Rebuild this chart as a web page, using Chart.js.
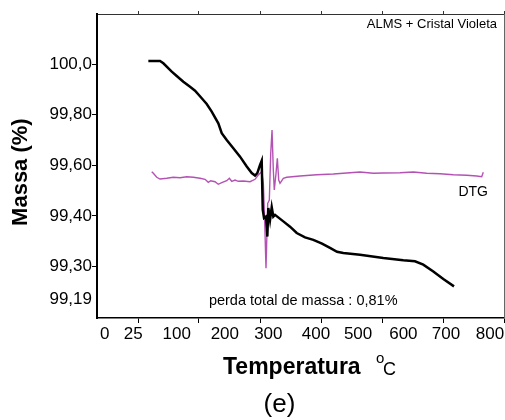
<!DOCTYPE html>
<html><head><meta charset="utf-8">
<script src="https://cdn.jsdelivr.net/npm/chart.js@4/dist/chart.umd.min.js"></script>
<style>html,body{margin:0;padding:0;background:#fff}#wrap{width:505px;height:420px;position:relative}</style>
</head><body><div id="wrap"><canvas id="c" width="505" height="420"></canvas></div>
<script>
// TG curve (mass %) vs temperature (°C)
const tgTemp = [37.3, 63.1, 70.4, 88.9, 99.9, 114.5, 129.3, 140.3, 155.1, 166.1, 177.1, 191.7, 199.2, 210.2, 224.8, 239.6, 254.4, 265.4, 272.7, 277.7, 283.7, 287.4, 289.7, 292.5, 296.9, 299.8, 302, 305.8, 309.5, 313, 316.8, 335.1, 349.9, 364.7, 383, 401.3, 420.5, 438.1, 453.6, 467.5, 504.3, 555.7, 599.8, 625.6, 643.9, 666, 688.1, 711.7];
const tgMass = [100.012, 100.012, 100.003, 99.970, 99.953, 99.930, 99.910, 99.895, 99.865, 99.842, 99.812, 99.766, 99.727, 99.700, 99.667, 99.634, 99.595, 99.569, 99.559, 99.569, 99.601, 99.618, 99.424, 99.391, 99.397, 99.318, 99.431, 99.384, 99.434, 99.397, 99.404, 99.378, 99.357, 99.332, 99.315, 99.305, 99.290, 99.273, 99.258, 99.253, 99.246, 99.233, 99.224, 99.220, 99.207, 99.180, 99.150, 99.121];
// DTG curve (arbitrary units)
const dtgTemp = [44.8, 48.3, 55.8, 63.1, 77.9, 92.4, 107.2, 122, 136.6, 151.3, 162.4, 169.6, 174.9, 184.4, 191.7, 199.2, 210.2, 216, 221.3, 228.5, 235.8, 246.9, 261.6, 272.7, 279.9, 287.4, 291, 293.6, 296.9, 300.7, 304.2, 307.3, 310.2, 313, 315.2, 319, 321.9, 324.9, 327.8, 335.1, 342.6, 371.9, 408.8, 445.4, 482.2, 504.3, 533.7, 555.7, 592.5, 621.9, 651.4, 680.8, 710.1, 739.7, 761.7, 772.8, 776.3];
const dtgValue = [0.63, 0.47, 0.07, -0.1, -0.03, 0.07, 0.03, 0.13, 0.07, -0.03, -0.13, -0.43, -0.27, -0.37, -0.63, -0.47, -0.27, -0.03, -0.33, -0.2, -0.33, -0.3, -0.37, -0.13, 0.3, 0.63, -0.53, -3.7, -9.03, -2.53, -2.2, 2.47, 4.8, 0.8, -1.2, 0.47, 1.97, -0.2, -0.53, -0.03, 0.07, 0.2, 0.33, 0.4, 0.53, 0.6, 0.47, 0.5, 0.53, 0.6, 0.47, 0.43, 0.33, 0.27, 0.2, 0.13, 0.57];
// axis ticks (label positions as they sit on the original, irregular axis)
const xTickValues = [-59, 4, 100, 206, 302, 407, 500, 600, 694, 791];
const xTickLabels = ['0', '25', '100', '200', '300', '400', '500', '600', '700', '800'];
const xMarkValues = [15, 149, 285, 420, 555, 689, 822];
const yTickValues = [100, 99.8, 99.6, 99.4, 99.2, 99.069];
const yTickLabels = ['100,0', '99,80', '99,60', '99,40', '99,30', '99,19'];
const yMarkedTicks = [100, 99.8, 99.6, 99.4, 99.2];
// texts
const cornerLabel = 'ALMS + Cristal Violeta';
const dtgLabel = 'DTG';
const lossLabel = 'perda total de massa : 0,81%';
const xTitleMain = 'Temperatura';
const xTitleSup = 'o';
const xTitleUnit = 'C';
const panelLabel = '(e)';
const yTitle = 'Massa (%)';

const FONT = "'Liberation Sans', Arial, Helvetica, sans-serif";
Chart.defaults.font.family = FONT;
Chart.defaults.color = '#000';

const X_MIN = -76, X_MAX = 822;
const noPad = s => { s.paddingLeft = 0; s.paddingRight = 0; };

const textPlugin = {
  id: 'texts',
  afterDraw(chart) {
    const {ctx, chartArea: a, scales} = chart;
    ctx.save();
    ctx.fillStyle = '#000';
    ctx.textBaseline = 'middle';
    ctx.font = '13px ' + FONT;
    ctx.textAlign = 'right';
    ctx.fillText(cornerLabel, a.right - 7, a.top + 10);
    ctx.font = '14px ' + FONT;
    ctx.textAlign = 'center';
    ctx.fillText(dtgLabel, scales.x.getPixelForValue(754), scales.yDtg.getPixelForValue(-1.37));
    ctx.font = '14.5px ' + FONT;
    ctx.fillText(lossLabel, scales.x.getPixelForValue(379), scales.y.getPixelForValue(99.062));
    // x title
    const cx = (a.left + a.right) / 2;
    ctx.textBaseline = 'alphabetic';
    ctx.textAlign = 'left';
    ctx.font = 'bold 23px ' + FONT;
    const tx = cx - 77.5;
    ctx.fillText(xTitleMain, tx, 374);
    ctx.font = '15px ' + FONT;
    ctx.fillText(xTitleSup, tx + 153, 363);
    ctx.font = '18px ' + FONT;
    ctx.fillText(xTitleUnit, tx + 160, 375);
    ctx.font = '26px ' + FONT;
    ctx.textAlign = 'center';
    ctx.fillText(panelLabel, cx - 21, 412);
    ctx.restore();
  }
};

new Chart(document.getElementById('c'), {
  type: 'line',
  data: {
    datasets: [
      {
        label: 'TG',
        data: tgTemp.map((t, i) => ({x: t, y: tgMass[i]})),
        borderColor: '#000',
        borderWidth: 2.5,
        pointRadius: 0,
        tension: 0,
        xAxisID: 'x', yAxisID: 'y'
      },
      {
        label: 'DTG',
        data: dtgTemp.map((t, i) => ({x: t, y: dtgValue[i]})),
        borderColor: '#b452b4',
        borderWidth: 1.4,
        pointRadius: 0,
        tension: 0,
        xAxisID: 'x', yAxisID: 'yDtg'
      }
    ]
  },
  options: {
    responsive: false,
    animation: false,
    devicePixelRatio: 1,
    layout: {padding: {top: 11, right: 1, left: 0, bottom: 0}},
    plugins: {legend: {display: false}, tooltip: {enabled: false}, title: {display: false}},
    scales: {
      x: {
        type: 'linear', position: 'bottom', weight: 1, min: X_MIN, max: X_MAX,
        afterBuildTicks: s => { s.ticks = xTickValues.map(v => ({value: v})); },
        afterFit: s => { s.height = 97; noPad(s); },
        ticks: {
          callback: (v, i) => xTickLabels[i],
          font: {size: 17}, color: '#000', padding: 1, maxRotation: 0, autoSkip: false
        },
        grid: {display: false, drawTicks: false},
        border: {display: false}
      },
      xm: {
        type: 'linear', axis: 'x', position: 'bottom', weight: 0, min: X_MIN, max: X_MAX,
        afterBuildTicks: s => { s.ticks = xMarkValues.map(v => ({value: v})); },
        afterFit: s => { s.height = 5; noPad(s); },
        ticks: {display: false},
        grid: {display: true, drawOnChartArea: false, tickLength: 5, color: '#000'},
        border: {display: true, color: '#000', width: 1.5}
      },
      xTop: {
        type: 'linear', axis: 'x', position: 'top', min: X_MIN, max: X_MAX,
        afterBuildTicks: s => { s.ticks = xMarkValues.map(v => ({value: v})); },
        afterFit: s => { s.height = 3; noPad(s); },
        ticks: {display: false},
        grid: {display: true, drawOnChartArea: false, tickLength: 3, color: '#333'},
        border: {display: true, color: '#333', width: 1}
      },
      y: {
        type: 'linear', position: 'left', min: 98.996, max: 100.198,
        afterBuildTicks: s => { s.ticks = yTickValues.map(v => ({value: v})); },
        afterFit: s => { s.width = 97; },
        ticks: {
          callback: (v, i) => yTickLabels[i],
          font: {size: 17}, color: '#000', padding: 0, autoSkip: false
        },
        grid: {
          display: true, drawOnChartArea: false, tickLength: 5,
          color: ctx => (ctx.tick && yMarkedTicks.includes(ctx.tick.value)) ? '#000' : 'rgba(0,0,0,0)'
        },
        border: {display: true, color: '#000', width: 2},
        title: {display: true, text: yTitle + '  ', font: {size: 22, weight: 'bold'}, color: '#000', padding: {top: 8, bottom: 0}}
      },
      yDtg: {
        type: 'linear', axis: 'y', display: false, min: -14, max: 16.4
      },
      yR: {
        type: 'linear', axis: 'y', position: 'right', min: 0, max: 1,
        afterFit: s => { s.width = 0; },
        ticks: {display: false},
        grid: {display: false},
        border: {display: true, color: '#666', width: 1}
      }
    }
  },
  plugins: [textPlugin]
});
</script>
</body></html>
